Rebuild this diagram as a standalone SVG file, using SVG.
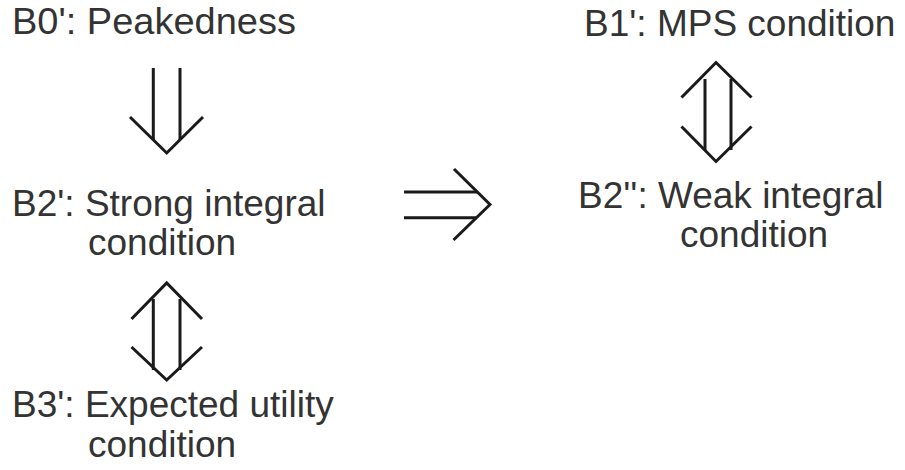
<svg xmlns="http://www.w3.org/2000/svg" width="905" height="470" viewBox="0 0 905 470">
<style>
.t{font-family:"Liberation Sans",Arial,sans-serif;font-size:37px;fill:#333333}
.a{fill:none;stroke:#1a1a1a;stroke-width:3;stroke-linecap:butt;stroke-linejoin:miter}
</style>
<rect width="905" height="470" fill="#ffffff"/>
<g id="b0"><text class="t" x="12" y="34" textLength="284" lengthAdjust="spacingAndGlyphs">B0': Peakedness</text></g>
<g id="b1"><text class="t" x="584" y="36">B1': MPS condition</text></g>
<g id="b2p"><text class="t" x="12" y="216">B2': Strong integral</text><text class="t" x="88" y="255">condition</text></g>
<g id="b2pp"><text class="t" x="578" y="208">B2'': Weak integral</text><text class="t" x="680" y="247">condition</text></g>
<g id="b3"><text class="t" x="12" y="417">B3': Expected utility</text><text class="t" x="88" y="457">condition</text></g>
<g id="connectors">
<g id="e-b0-b2">
<path class="a" d="M153.3,68 V140 M180,68 V140"/>
<path class="a" d="M130,117 L166.7,153 L203,117"/>
</g>
<g id="e-b2-b3">
<path class="a" d="M153.3,299 V370 M180,299 V370"/>
<path class="a" d="M131.5,319 L166.7,283 L202,319"/>
<path class="a" d="M131.5,347 L166.7,380 L202,347"/>
</g>
<g id="e-b1-b2pp">
<path class="a" d="M705,79 V150 M731,79 V150"/>
<path class="a" d="M681.5,97.5 L716,62.5 L751.5,97.5"/>
<path class="a" d="M681.5,126.5 L716,161.5 L751.5,126.5"/>
</g>
<g id="e-b2-b2pp">
<path class="a" d="M404,192 H477 M404,217.7 H477"/>
<path class="a" d="M454,169 L490,204.5 L453.5,240"/>
</g>
</g>
</svg>
